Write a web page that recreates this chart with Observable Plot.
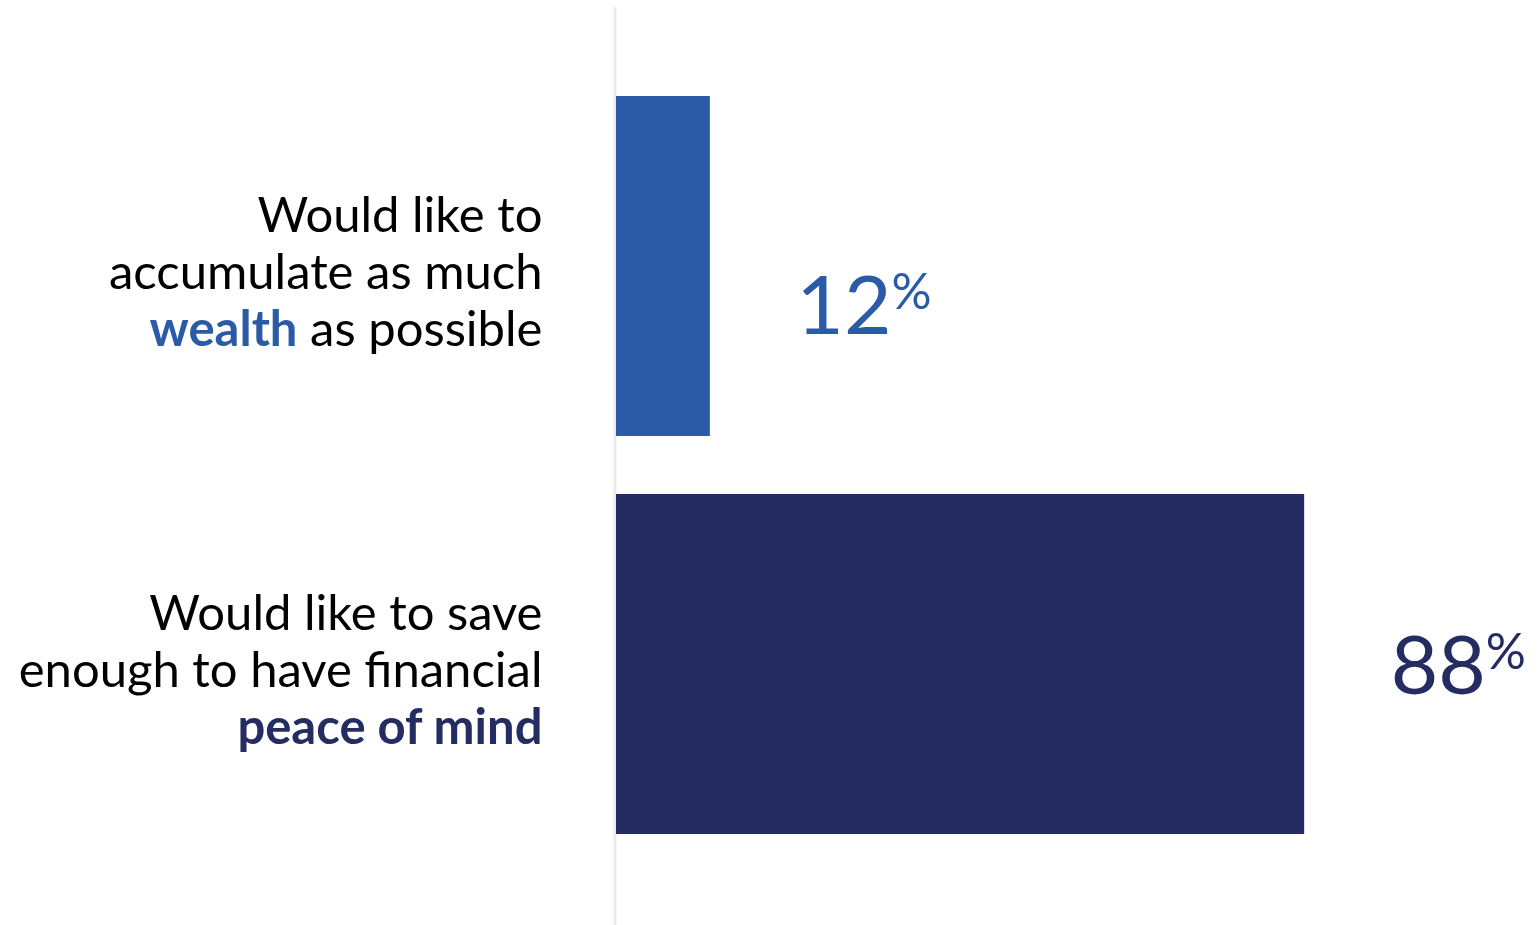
<!DOCTYPE html>
<html><head><meta charset="utf-8">
<script src="https://cdn.jsdelivr.net/npm/d3@7"></script>
<script src="https://cdn.jsdelivr.net/npm/@observablehq/plot@0.6"></script>
<style>html,body{margin:0;padding:0;background:#fff;overflow:hidden} svg{display:block}</style>
</head><body><div id="chart"></div>
<script>
const categories = ["Accumulate wealth", "Financial peace of mind"];
const values = [12, 88];
const labelLines = [
  ["Would like to", "accumulate as much", "wealth as possible"],
  ["Would like to save", "enough to have financial", "peace of mind"]
];
const emphasis = ["wealth", "peace of mind"];
const colors = ["#2B5BA6", "#242C61"];

const data = categories.map((c, i) => ({category: c, value: values[i], lines: labelLines[i], color: colors[i], emph: emphasis[i]}));

const chart = Plot.plot({
  width: 1537, height: 925,
  marginLeft: 616, marginRight: 139, marginTop: 38, marginBottom: 33,
  x: {domain: [0, 100], axis: null},
  y: {domain: categories, padding: 0.1457, axis: null},
  style: {fontFamily: "Lato, 'Open Sans', sans-serif", background: "#fff"},
  marks: [
    Plot.ruleX([0], {stroke: "#ebebeb", strokeWidth: 3, dx: -1.5, insetTop: -31, insetBottom: -33}),
    Plot.barX(data, {x: "value", y: "category", fill: "color"}),
    Plot.text(data, {x: 0, y: "category", text: d => d.lines.join("\n"), textAnchor: "end", dx: -74, dy: 4, lineHeight: 1.165, fontSize: 49, fill: "#000", className: "cat-label"}),
    ...data.map((d, i) => Plot.text([d], {x: "value", y: "category", text: d => String(d.value), textAnchor: "start", dx: 86, dy: i === 0 ? 41 : 3, fontSize: 82, fill: "color", className: "val-label"}))
  ]
});
document.getElementById("chart").append(chart);

// emphasis words in category labels
d3.select(chart).selectAll("g.cat-label text").each(function(_, i) {
  const d = data[i];
  d3.select(this).selectAll("tspan").each(function() {
    const t = this.textContent;
    if (t.startsWith(d.emph)) {
      const rest = t.slice(d.emph.length);
      const ts = d3.select(this).text("").style("white-space", "pre");
      ts.append("tspan").attr("font-weight", 700).attr("fill", d.color).text(d.emph);
      if (rest) ts.append("tspan").text(rest);
    }
  });
});
// superscript percent signs
d3.select(chart).selectAll("g.val-label text").each(function() {
  d3.select(this).append("tspan").attr("font-size", 50).attr("dy", -25).text("%");
});
</script>
</body></html>
